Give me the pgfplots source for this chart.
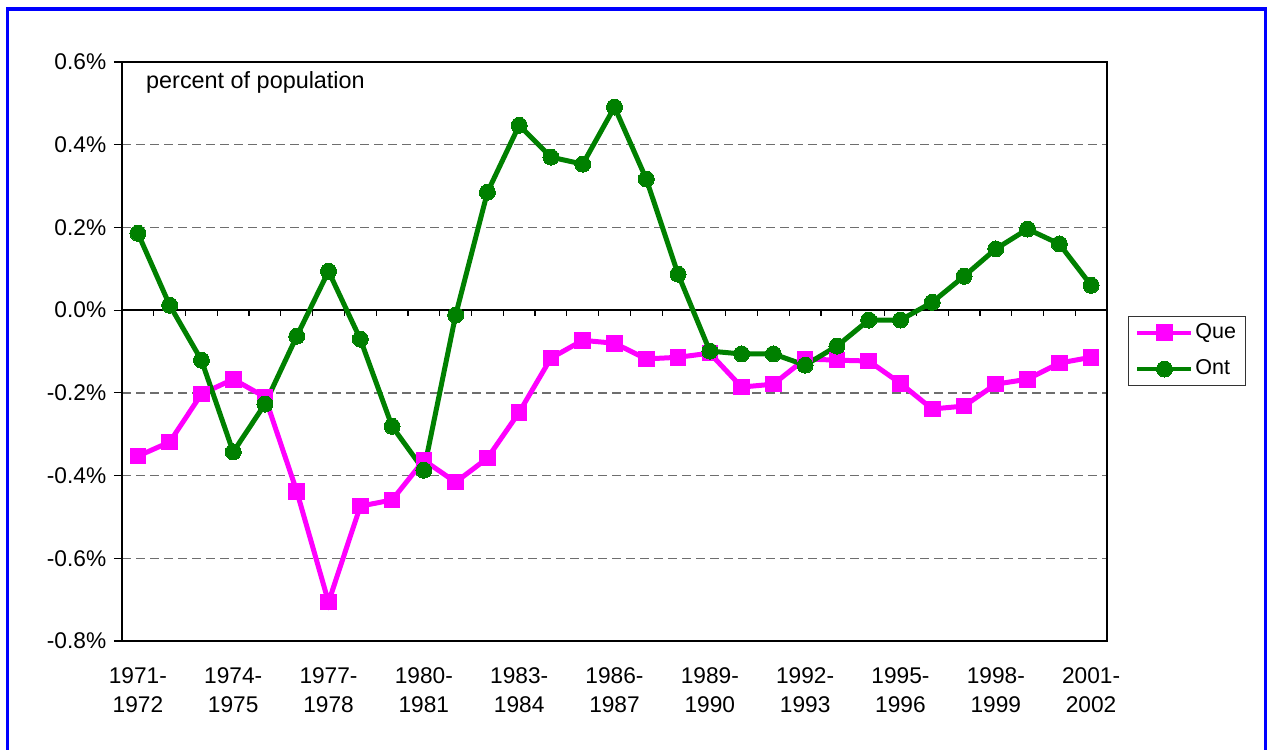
\documentclass[border=0pt]{standalone}
\usepackage{pgfplots}
\pgfplotsset{compat=1.18}
\usepackage{fontspec}
\setmainfont{Liberation Sans}
\definecolor{que}{RGB}{255,0,255}
\definecolor{ont}{RGB}{0,128,0}
\definecolor{gridgray}{RGB}{110,110,110}
\definecolor{frameblue}{RGB}{0,0,255}

\pgfplotstableread{
x Que Ont
0 -0.353 0.186
1 -0.319 0.012
2 -0.203 -0.121
3 -0.167 -0.343
4 -0.210 -0.227
5 -0.438 -0.063
6 -0.706 0.094
7 -0.474 -0.070
8 -0.459 -0.281
9 -0.363 -0.387
10 -0.416 -0.012
11 -0.358 0.285
12 -0.247 0.447
13 -0.116 0.370
14 -0.073 0.353
15 -0.080 0.491
16 -0.118 0.317
17 -0.114 0.087
18 -0.104 -0.099
19 -0.186 -0.106
20 -0.179 -0.106
21 -0.118 -0.133
22 -0.121 -0.087
23 -0.123 -0.024
24 -0.177 -0.024
25 -0.239 0.019
26 -0.232 0.082
27 -0.179 0.148
28 -0.167 0.196
29 -0.128 0.160
30 -0.114 0.060
}\datatable

\begin{document}
\fontsize{22.7}{29}\selectfont
\begin{tikzpicture}
\useasboundingbox (0pt,0pt) rectangle (1267pt,750pt);
\clip (0pt,0pt) rectangle (1267pt,750pt);
\fill[white] (0pt,0pt) rectangle (1267pt,750pt);
\draw[frameblue, line width=3.5pt] (7.5pt,-20pt) -- (7.5pt,741pt) -- (1265.5pt,741pt) -- (1265.5pt,-20pt);
\begin{axis}[
  at={(122pt,109pt)}, anchor=south west,
  scale only axis, width=985pt, height=579pt,
  xmin=-0.5, xmax=30.5, ymin=-0.8, ymax=0.6,
  xtick={0,3,6,9,12,15,18,21,24,27,30},
  xticklabels={{1971-\\1972},{1974-\\1975},{1977-\\1978},{1980-\\1981},{1983-\\1984},{1986-\\1987},{1989-\\1990},{1992-\\1993},{1995-\\1996},{1998-\\1999},{2001-\\2002}},
  xticklabel style={align=center, font=\fontsize{22.7}{28.5}\selectfont, yshift=-11pt},
  ytick={-0.8,-0.6,-0.4,-0.2,0,0.2,0.4,0.6},
  yticklabels={-0.8\%,-0.6\%,-0.4\%,-0.2\%,0.0\%,0.2\%,0.4\%,0.6\%},
  yticklabel style={font=\fontsize{22.7}{29}\selectfont},
  ytick pos=left,
  ymajorgrids,
  grid style={gridgray, dash pattern=on 9pt off 5pt, line width=1.4pt},
  tick align=outside,
  major tick length=8pt,
  x tick style={draw=none},
  y tick style={black, line width=1.2pt},
  axis line style={black, line width=1.2pt},
  every axis plot/.append style={line width=5pt},
  legend style={at={(1.0213,0.5614)}, anchor=north west, draw=black!80, line width=1pt, fill=white,
     font=\fontsize{21.5}{26}\selectfont, inner xsep=7pt, inner ysep=5pt, row sep=14pt,
     cells={anchor=west}},
  legend image code/.code={\draw[#1, line width=4pt, mark repeat=2, mark phase=2] plot coordinates {(0pt,0pt) (27pt,0pt) (54pt,0pt)};},
  clip=false,
]
\draw[black, line width=1.5pt] (axis cs:-0.5,0) -- (axis cs:30.5,0);
\pgfplotsinvokeforeach{0,...,31}{\draw[black, line width=1.2pt] (axis cs:#1-0.5,0) -- ++(0pt,-6pt);}
\addplot[que, mark=square*, mark size=7.8pt, mark options={solid, line width=0pt}] table[x=x, y=Que] {\datatable};
\addlegendentry{Que}
\addplot[ont, mark=*, mark size=8pt, mark options={solid, line width=0pt}] table[x=x, y=Ont] {\datatable};
\addlegendentry{Ont}
\end{axis}
\node[anchor=base west, inner sep=0pt] at (146pt,661pt) {\fontsize{23.4}{29}\selectfont percent of population};
\end{tikzpicture}
\end{document}
